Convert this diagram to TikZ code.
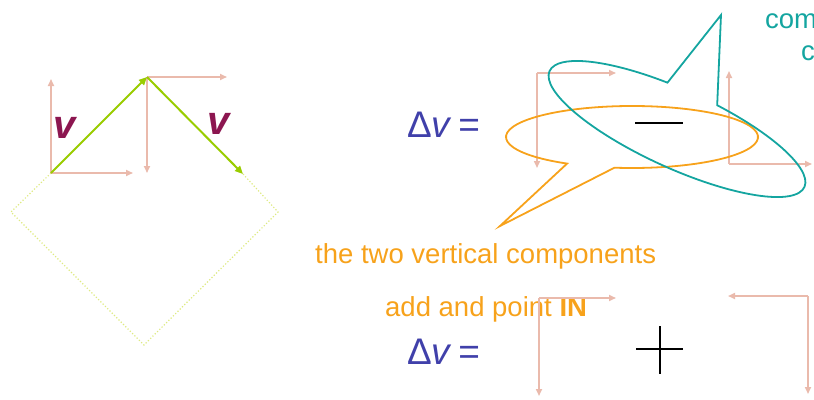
\documentclass[tikz,border=0pt]{standalone}
\usepackage{fontspec}
\setmainfont{Liberation Sans}
\usetikzlibrary{arrows.meta}

\definecolor{comppink}{RGB}{234,186,172}
\definecolor{velgreen}{RGB}{153,204,0}
\definecolor{diamyellow}{RGB}{222,234,130}
\definecolor{vmaroon}{RGB}{140,22,80}
\definecolor{dvblue}{RGB}{64,64,170}
\definecolor{noteorange}{RGB}{247,162,27}
\definecolor{noteteal}{RGB}{20,165,160}

\begin{document}
\begin{tikzpicture}[
    x=1pt, y=-1pt,
    comp/.style={draw=comppink, line width=1.6pt, -{Triangle[length=7pt,width=6pt]}},
    vel/.style={draw=velgreen, line width=2pt, -{Triangle[length=8pt,width=7pt]}},
    vlabel/.style={text=vmaroon, font=\fontsize{40}{48}\selectfont\bfseries\itshape, inner sep=0pt},
    dv/.style={text=dvblue, font=\fontsize{37}{44}\selectfont, anchor=base west, inner sep=0pt},
    note/.style={font=\fontsize{27.5}{33}\selectfont, anchor=base west, inner sep=0pt},
    callout/.style={line width=1.8pt, line join=miter},
    op/.style={draw=black, line width=1.5pt}
]
\useasboundingbox (0,0) rectangle (814,399);

% velocity before and after
\coordinate (vtail) at (51,173);
\coordinate (vturn) at (147,77);
\coordinate (vhead) at (243,174);
\coordinate (vup) at (51,79);
\coordinate (vright) at (133,173);
\coordinate (turnright) at (227,77);
\coordinate (turndown) at (147,173);

\draw[dotted, diamyellow, line width=1.2pt] (vtail) -- (11,212) -- (144,345) -- (278,212) -- (vhead);
\draw[comp] (vtail) -- (vup);
\draw[comp] (vtail) -- (vright);
\draw[comp] (vturn) -- (turnright);
\draw[comp] (vturn) -- (turndown);
\draw[vel] (vtail) -- (vturn);
\draw[vel] (vturn) -- (vhead);

\node[vlabel] (v1) at (65,128) {v};
\node[vlabel] (v2) at (219,124) {v};

% delta v, top row
\node[dv] (dvtop) at (407,137) {Δ\textit{v}\,=};

\coordinate (ltop) at (537,73);
\coordinate (ltopright) at (616,73);
\coordinate (ltopdown) at (537,168);
\coordinate (rtop) at (729,164);
\coordinate (rtopup) at (729,71);
\coordinate (rtopright) at (812,164);
\draw[comp] (ltop) -- (ltopright);
\draw[comp] (ltop) -- (ltopdown);
\draw[comp] (rtop) -- (rtopup);
\draw[comp] (rtop) -- (rtopright);

\coordinate (minusl) at (635,123);
\coordinate (minusr) at (683,123);
\draw[op] (minusl) -- (minusr);

% callouts
\coordinate (orangetip) at (500,226);
\begin{scope}[shift={(632,137)}]
\draw[callout, draw=noteorange] (121:126 and 31) arc[start angle=121, end angle=458, x radius=126, y radius=31] -- (orangetip) -- cycle;
\end{scope}

\coordinate (tealtip) at (721,15);
\begin{scope}[shift={(677,129)}, rotate=-24.5]
\draw[callout, draw=noteteal] (281:140 and 39) arc[start angle=281, end angle=618.5, x radius=140, y radius=39] -- (tealtip) -- cycle;
\end{scope}

\node[note, text=noteteal] (tealnote1) at (765,28) {com};
\node[note, text=noteteal] (tealnote2) at (801,60) {c};
\node[note, text=noteorange] (vertnote) at (315,263) {the two vertical components};
\node[note, text=noteorange] (addnote) at (385,316) {add and point \textbf{IN}};

% delta v, bottom row
\node[dv] (dvbot) at (407,364) {Δ\textit{v}\,=};

\coordinate (lbot) at (539,298);
\coordinate (lbotright) at (616,298);
\coordinate (lbotdown) at (539,396);
\coordinate (rbot) at (808,296);
\coordinate (rbotleft) at (728,296);
\coordinate (rbotdown) at (808,394);
\draw[comp] (lbot) -- (lbotright);
\draw[comp] (lbot) -- (lbotdown);
\draw[comp] (rbot) -- (rbotleft);
\draw[comp] (rbot) -- (rbotdown);

\coordinate (plusl) at (636,349);
\coordinate (plusr) at (683,349);
\coordinate (plust) at (660,326);
\coordinate (plusb) at (660,374);
\draw[op] (plusl) -- (plusr);
\draw[op] (plust) -- (plusb);

\end{tikzpicture}
\end{document}
